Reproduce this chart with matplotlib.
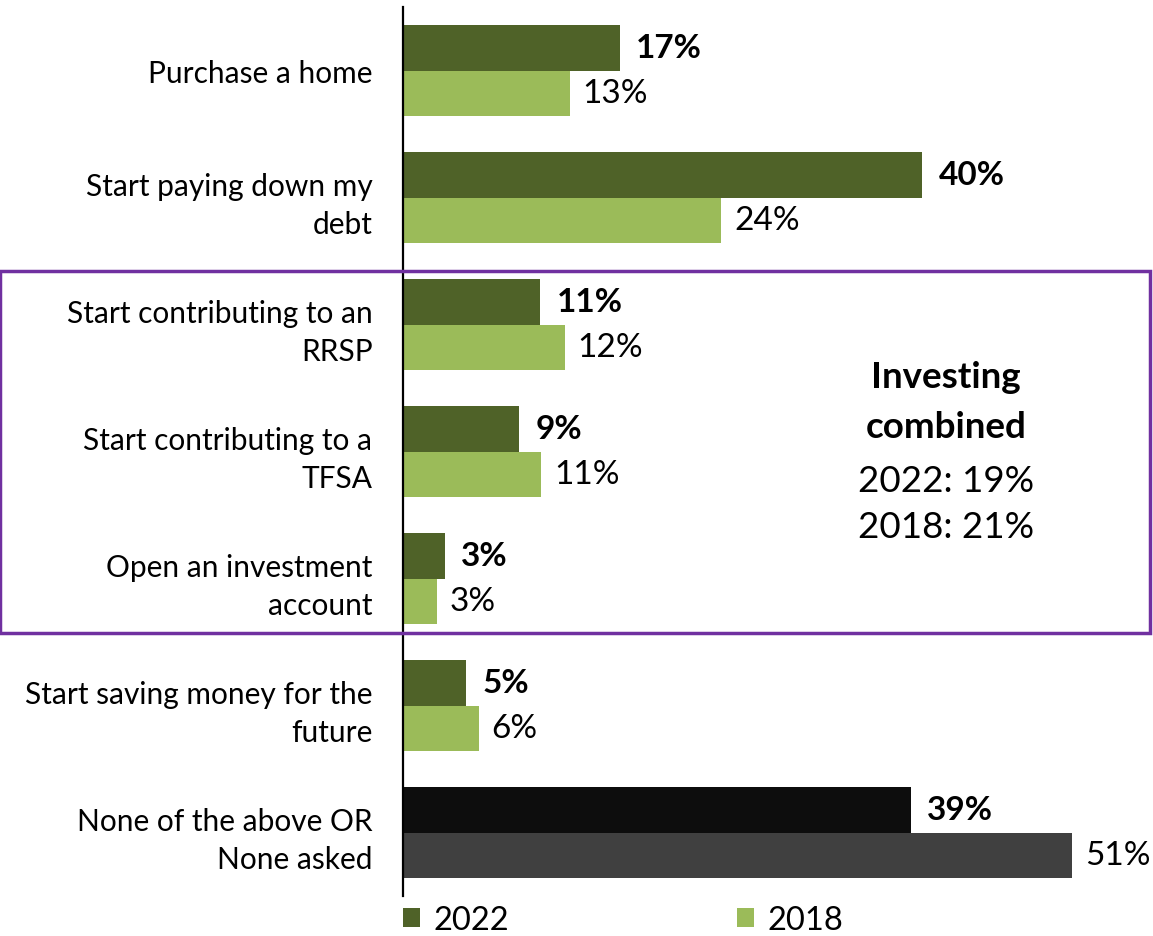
import matplotlib.pyplot as plt
import matplotlib.patches as patches
import numpy as np

plt.rcParams['font.family'] = ['Lato', 'DejaVu Sans']

# ----------------------------------------- data
labels = [
    "Purchase a home",
    "Start paying down my\ndebt",
    "Start contributing to an\nRRSP",
    "Start contributing to a\nTFSA",
    "Open an investment\naccount",
    "Start saving money for the\nfuture",
    "None of the above OR\nNone asked",
]
series_names = ["2022", "2018"]
# bar lengths (labels are the rounded values shown)
vals_2022 = [16.6, 39.8, 10.5, 8.9, 3.2, 4.8, 38.9]
vals_2018 = [12.8, 24.4, 12.4, 10.6, 2.6, 5.8, 51.3]
text_2022 = ["17%", "40%", "11%", "9%", "3%", "5%", "39%"]
text_2018 = ["13%", "24%", "12%", "11%", "3%", "6%", "51%"]
box_lines = ["Investing", "combined", "2022: 19%", "2018: 21%"]

col_2022 = ["#4F6228"] * 6 + ["#0D0D0D"]
col_2018 = ["#9BBB59"] * 6 + ["#404040"]

FS = 21.5      # category labels
FS_VAL = 24    # bar values
FS_BOX = 26.5  # investing note
W, H = 1153, 937
fig = plt.figure(figsize=(W / 100, H / 100), dpi=100)
ax = fig.add_axes([403 / W, 1 - 897 / H, 1 - 403 / W, (897 - 8) / H])

y = np.arange(len(labels))
h = 0.362
b1 = ax.barh(y - h / 2, vals_2022, height=h, color=col_2022, label=series_names[0])
b2 = ax.barh(y + h / 2, vals_2018, height=h, color=col_2018, label=series_names[1])

for rect, t in zip(b1, text_2022):
    ax.annotate(t, (rect.get_width(), rect.get_y() + rect.get_height() / 2),
                xytext=(12, 0), textcoords="offset points", va="center", ha="left",
                fontsize=FS_VAL, fontweight="bold")
for rect, t in zip(b2, text_2018):
    ax.annotate(t, (rect.get_width(), rect.get_y() + rect.get_height() / 2),
                xytext=(9, 0), textcoords="offset points", va="center", ha="left",
                fontsize=FS_VAL)

ax.set_xlim(0, 750 / 13.05)
ax.set_ylim(len(labels) - 0.5, -0.5)
ax.set_yticks(y)
ax.set_yticklabels(labels, fontsize=FS, linespacing=1.42)
ax.tick_params(axis="y", length=0, pad=22)
ax.set_xticks([])
for s in ["top", "right", "bottom"]:
    ax.spines[s].set_visible(False)
ax.spines["left"].set_linewidth(1.6)

# purple box around investing rows
box = patches.Rectangle((0, 1 - 634 / H), 1150 / W, (634 - 272) / H,
                        transform=fig.transFigure, fill=False,
                        edgecolor="#7030A0", linewidth=2.5, clip_on=False)
fig.add_artist(box)

for i, (line, ypx) in enumerate(zip(box_lines, [378, 428, 482, 528])):
    fig.text(946 / W, 1 - ypx / H, line, ha="center", va="center", fontsize=FS_BOX,
             fontweight="bold" if i < 2 else "normal")

fig.legend(handles=[b1[0], b2[0]], labels=series_names, loc="center left",
           bbox_to_anchor=(403 / W, 1 - 921 / H), ncol=2, frameon=False,
           fontsize=23.5, handlelength=0.52, handleheight=0.52, handletextpad=0.4,
           columnspacing=7.0, borderaxespad=0, borderpad=0)

fig.savefig("out.png", dpi=100)
